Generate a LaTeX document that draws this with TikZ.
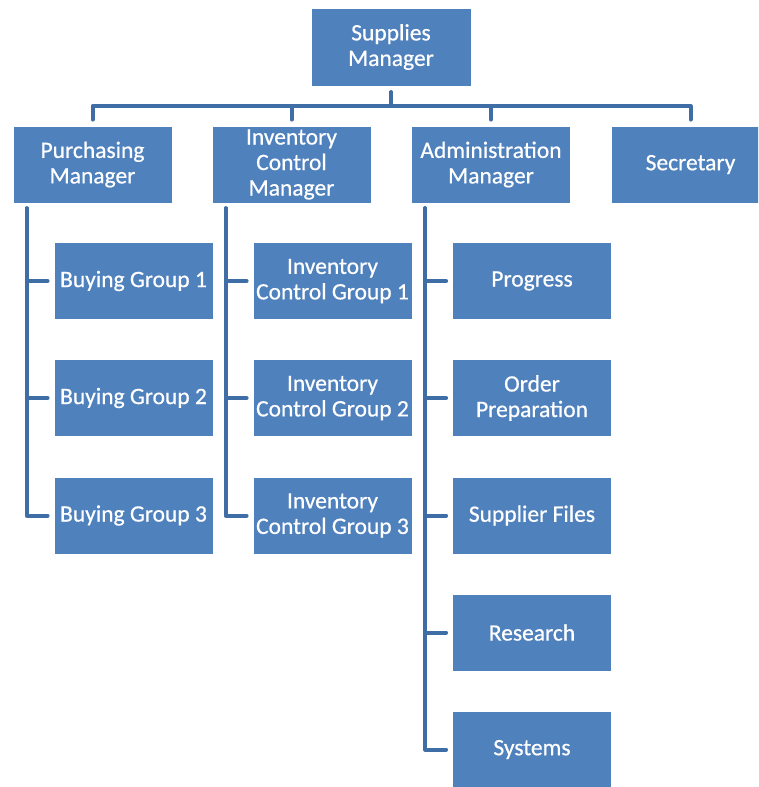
\documentclass[tikz,border=0pt]{standalone}
\usepackage{fontspec}
\setmainfont{Carlito}[FakeBold=0.6]
\usetikzlibrary{positioning,calc}
\definecolor{boxblue}{HTML}{4F81BD}
\definecolor{linkblue}{HTML}{3F6EA6}
\begin{document}
\begin{tikzpicture}[x=1pt,y=-1pt,
  unit/.style={fill=boxblue,draw=white,line width=0.8pt,text=white,
    minimum width=159pt,minimum height=77pt,align=center,inner sep=1pt,
    font=\fontsize{23.5}{25.5}\selectfont},
  link/.style={draw=linkblue,line width=4pt,line join=round,line cap=round}]
\clip (0,0) rectangle (758,787);
\useasboundingbox (0,0) rectangle (758,787);

% head of the department
\node[unit,minimum width=160pt,minimum height=78pt] (sm) at (391,47) {Supplies\\Manager};

% second level
\node[unit] (pm) at (92.5,164.5) {Purchasing\\Manager};
\node[unit] (icm) at (291.5,164.5) {Inventory\\Control\\Manager};
\node[unit] (am) at (491,164.5) {Administration\\Manager};
\node[unit] (sec) at (690.5,164.5) {Secretary};

% buying groups
\node[unit] (bg1) at (133.5,281) {Buying Group 1};
\node[unit] (bg2) at (133.5,398) {Buying Group 2};
\node[unit] (bg3) at (133.5,515.5) {Buying Group 3};

% inventory control groups
\node[unit] (icg1) at (332.5,281) {Inventory\\Control Group 1};
\node[unit] (icg2) at (332.5,398) {Inventory\\Control Group 2};
\node[unit] (icg3) at (332.5,515.5) {Inventory\\Control Group 3};

% administration sections
\node[unit] (pr) at (532,281) {Progress};
\node[unit] (op) at (532,398) {Order\\Preparation};
\node[unit] (sf) at (532,515.5) {Supplier Files};
\node[unit] (rs) at (532,632.5) {Research};
\node[unit] (sy) at (532,749.5) {Systems};

% top-level bus
\begin{scope}[on background layer/.try]
\coordinate (bus) at (391,106);
\foreach \n in {pm,icm,am,sec}{
  \draw[link,shorten >=6pt] ([yshift=-6pt]sm.south) -- (bus) -| (\n.north);
}
% side trunks
\foreach \p/\c in {pm/bg1,pm/bg2,pm/bg3,icm/icg1,icm/icg2,icm/icg3,am/pr,am/op,am/sf,am/rs,am/sy}{
  \draw[link,shorten >=6pt] ([xshift=14pt,yshift=-5pt]\p.south west) |- (\c.west);
}
\end{scope}
\end{tikzpicture}
\end{document}
